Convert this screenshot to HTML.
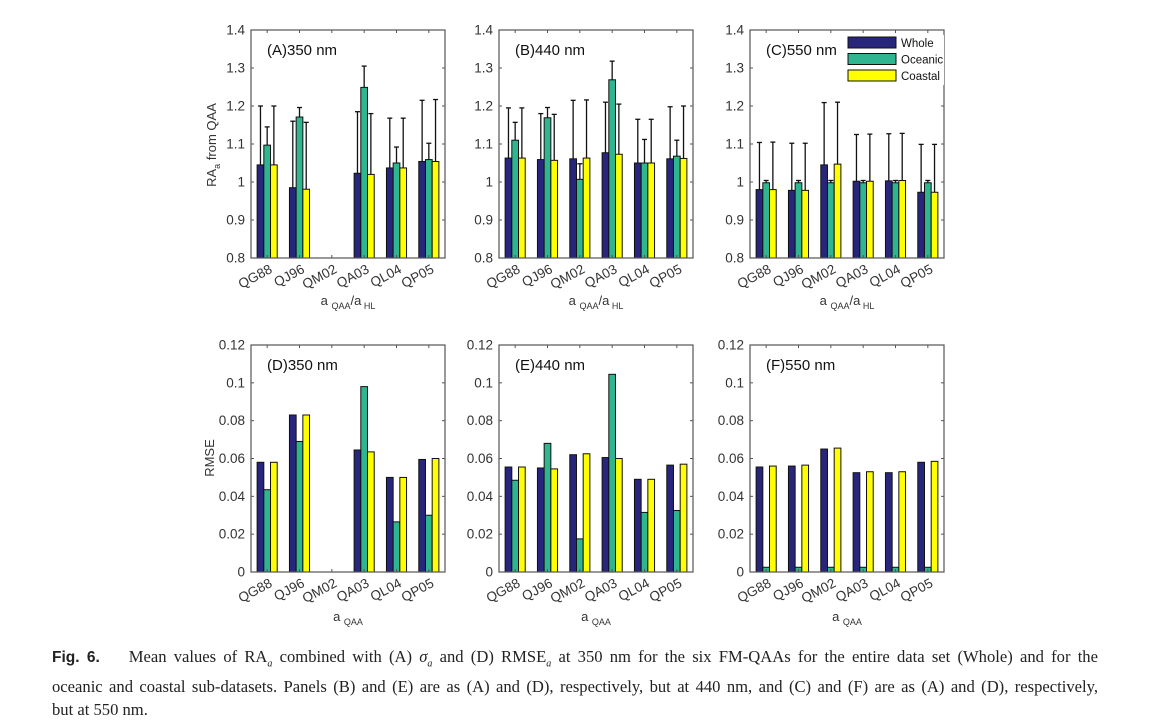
<!DOCTYPE html>
<html><head><meta charset="utf-8">
<style>
body{margin:0;background:#fff;width:1154px;height:716px;overflow:hidden;font-family:"Liberation Sans",sans-serif}
#cap{position:absolute;left:52px;top:645px;width:1046px;font-family:"Liberation Serif",serif;font-size:16.6px;line-height:23px;color:#222}
#cap .j{white-space:nowrap;text-align:justify;text-align-last:justify}
#cap b{font-family:"Liberation Sans",sans-serif;font-size:15.5px}
</style></head><body>
<svg id="chart" width="1154" height="640" style="position:absolute;left:0;top:0"></svg>
<div id="cap"><div class="j"><b>Fig. 6.</b>&nbsp;&nbsp;&nbsp; Mean values of RA<i><sub style="font-size:10px">a</sub></i> combined with (A) <i>σ<sub style="font-size:10px">a</sub></i> and (D) RMSE<i><sub style="font-size:10px">a</sub></i> at 350 nm for the six FM-QAAs for the entire data set (Whole) and for the</div><div class="j">oceanic and coastal sub-datasets. Panels (B) and (E) are as (A) and (D), respectively, but at 440 nm, and (C) and (F) are as (A) and (D), respectively,</div><div>but at 550 nm.</div></div>
<script>
const categories=["QG88","QJ96","QM02","QA03","QL04","QP05"];
const seriesNames=["Whole","Oceanic","Coastal"];
const raTicks=[0.8,0.9,1,1.1,1.2,1.3,1.4];
const rmseTicks=[0,0.02,0.04,0.06,0.08,0.1,0.12];
const N=null;
const aWhole=[1.045,0.985,N,1.023,1.037,1.054], aOce=[1.097,1.171,N,1.249,1.05,1.059], aCoast=[1.045,0.981,N,1.02,1.037,1.054];
const aWhole_e=[1.2,1.16,N,1.185,1.168,1.215], aOce_e=[1.145,1.196,N,1.305,1.092,1.102], aCoast_e=[1.2,1.157,N,1.18,1.168,1.217];
const bWhole=[1.063,1.059,1.061,1.077,1.05,1.061], bOce=[1.11,1.169,1.007,1.269,1.05,1.068], bCoast=[1.063,1.057,1.063,1.073,1.05,1.062];
const bWhole_e=[1.195,1.18,1.215,1.21,1.165,1.198], bOce_e=[1.157,1.196,1.048,1.318,1.112,1.11], bCoast_e=[1.195,1.178,1.216,1.205,1.165,1.2];
const cWhole=[0.98,0.978,1.045,1.002,1.003,0.973], cOce=[0.998,0.998,0.998,0.998,0.998,0.998], cCoast=[0.98,0.978,1.047,1.002,1.004,0.973];
const cWhole_e=[1.104,1.102,1.209,1.125,1.127,1.099], cOce_e=[1.004,1.004,1.004,1.004,1.004,1.004], cCoast_e=[1.105,1.102,1.21,1.126,1.128,1.099];
const dWhole=[0.058,0.083,N,0.0645,0.05,0.0595], dOce=[0.0435,0.069,N,0.098,0.0265,0.03], dCoast=[0.058,0.083,N,0.0635,0.05,0.06];
const eWhole=[0.0555,0.055,0.062,0.0605,0.049,0.0565], eOce=[0.0485,0.068,0.0175,0.1045,0.0315,0.0325], eCoast=[0.0555,0.0545,0.0625,0.06,0.049,0.057];
const fWhole=[0.0555,0.056,0.065,0.0525,0.0525,0.058], fOce=[0.0025,0.0025,0.0025,0.0025,0.0025,0.0025], fCoast=[0.056,0.0565,0.0655,0.053,0.053,0.0585];

const colors=["#28267c","#2fb58f","#ffff00"];
const svg=document.getElementById('chart');
const NS="http://www.w3.org/2000/svg";
function mk(t,a,p){const e=document.createElementNS(NS,t);for(const k in a)e.setAttribute(k,a[k]);(p||svg).appendChild(e);return e;}

const panels=[
 {id:"a",label:"(A)350 nm",x:251,top:30,bot:258,ticks:raTicks,min:0.8,max:1.4,vals:[aWhole,aOce,aCoast],errs:[aWhole_e,aOce_e,aCoast_e],xt:"ra"},
 {id:"b",label:"(B)440 nm",x:499,top:30,bot:258,ticks:raTicks,min:0.8,max:1.4,vals:[bWhole,bOce,bCoast],errs:[bWhole_e,bOce_e,bCoast_e],xt:"ra"},
 {id:"c",label:"(C)550 nm",x:750,top:30,bot:258,ticks:raTicks,min:0.8,max:1.4,vals:[cWhole,cOce,cCoast],errs:[cWhole_e,cOce_e,cCoast_e],xt:"ra",legend:true},
 {id:"d",label:"(D)350 nm",x:251,top:345,bot:572,ticks:rmseTicks,min:0,max:0.12,vals:[dWhole,dOce,dCoast],xt:"rmse"},
 {id:"e",label:"(E)440 nm",x:499,top:345,bot:572,ticks:rmseTicks,min:0,max:0.12,vals:[eWhole,eOce,eCoast],xt:"rmse"},
 {id:"f",label:"(F)550 nm",x:750,top:345,bot:572,ticks:rmseTicks,min:0,max:0.12,vals:[fWhole,fOce,fCoast],xt:"rmse"}
];
const W=194, BW=6.7;
panels.forEach(p=>{
 const g=mk('g',{});
 
 
 const y=v=>p.bot-(v-p.min)/(p.max-p.min)*(p.bot-p.top);
 const xc=i=>p.x+(i+0.5)*W/categories.length;
 p.vals.forEach((arr,s)=>{
  arr.forEach((v,i)=>{
   if(v===null)return;
   const bx=xc(i)+(s-1)*BW-BW/2;
   if(p.errs){const ev=p.errs[s][i];
    const l=mk('line',{x1:bx+BW/2,x2:bx+BW/2,y1:y(v),y2:y(ev),stroke:"#111","stroke-width":1.3},g);
    
    
    mk('line',{x1:bx+BW/2-2.5,x2:bx+BW/2+2.5,y1:y(ev),y2:y(ev),stroke:"#111","stroke-width":1.3},g);
   }
   const r=mk('rect',{x:bx,y:y(v),width:BW,height:p.bot-y(v),fill:colors[s],stroke:"#111","stroke-width":1},g);
   
   
  });
 });
 const box=mk('rect',{x:p.x,y:p.top,width:W,height:p.bot-p.top,fill:"none",stroke:"#555","stroke-width":1.2},g);
 
 
 p.ticks.forEach(t=>{
  const ty=y(t);
  mk('line',{x1:p.x,x2:p.x+3,y1:ty,y2:ty,stroke:"#555"},g);
  mk('line',{x1:p.x+W-3,x2:p.x+W,y1:ty,y2:ty,stroke:"#555"},g);
  const tx=mk('text',{x:p.x-6,y:ty+4.5,"text-anchor":"end","font-size":13.5,fill:"#333"},g);
  tx.textContent=String(t);
  
  
 });
 categories.forEach((c,i)=>{
  const x=xc(i);
  mk('line',{x1:x,x2:x,y1:p.bot,y2:p.bot-3,stroke:"#555"},g);
  mk('line',{x1:x,x2:x,y1:p.top,y2:p.top+3,stroke:"#555"},g);
  const tx=mk('text',{x:x+6,y:p.bot+14,"text-anchor":"end","font-size":13.5,fill:"#333",transform:`rotate(-28 ${x+6} ${p.bot+14})`},g);
  tx.textContent=c;
  
  
 });
 const lb=mk('text',{x:p.x+16,y:p.top+25,"font-size":15,fill:"#111"},g);
 lb.textContent=p.label;
 
 
 const xt=mk('text',{x:p.x+W/2,y:p.bot+(p.xt=="ra"?47:49),"text-anchor":"middle","font-size":13,fill:"#333"},g);
 xt.innerHTML=p.xt=="ra"?'a <tspan font-size="9" dy="4">QAA</tspan><tspan dy="-4">/a</tspan><tspan font-size="9" dy="4"> HL</tspan>':'a <tspan font-size="9" dy="4">QAA</tspan>';
 
 
 if(p.legend){
  const lg=mk('g',{},g);
  
  
  mk('rect',{x:847,y:35,width:97,height:50,fill:"#fff",stroke:"none"},lg);
  seriesNames.forEach((n,s)=>{
   const r=mk('rect',{x:848,y:37+s*16.5,width:48,height:11,fill:colors[s],stroke:"#111","stroke-width":1},lg);
   
   
   const t=mk('text',{x:901,y:47+s*16.5,"font-size":11.5,fill:"#111"},lg);
   t.textContent=n;
   
   
  });
 }
});
const yt1=mk('text',{x:0,y:0,"font-size":13,fill:"#333","text-anchor":"middle",transform:"translate(216 145) rotate(-90)"});
yt1.innerHTML='RA<tspan font-size="9" dy="4">a</tspan><tspan dy="-4">  from QAA</tspan>';


const yt2=mk('text',{x:0,y:0,"font-size":13,fill:"#333","text-anchor":"middle",transform:"translate(214 458) rotate(-90)"});
yt2.textContent='RMSE';


</script>
</body></html>
